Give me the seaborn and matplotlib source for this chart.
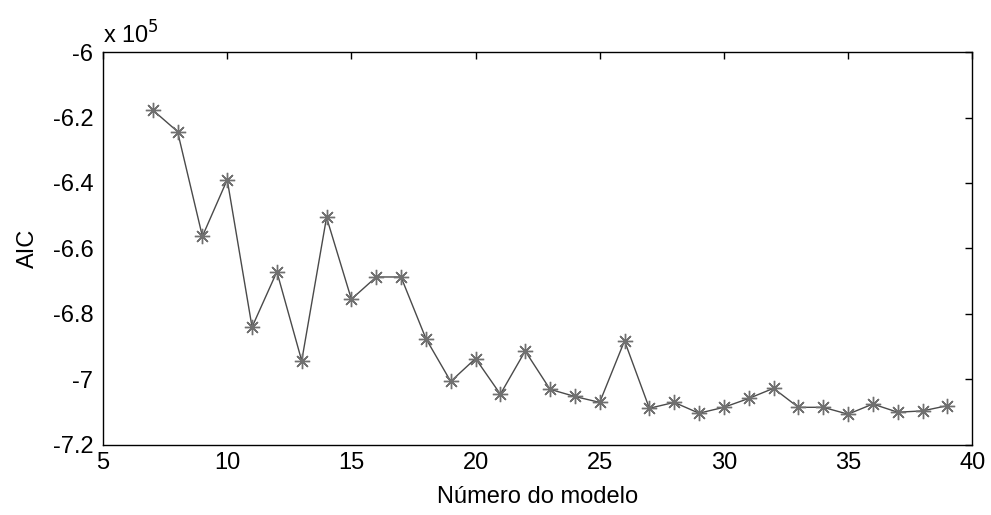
import numpy as np
import pandas as pd
import matplotlib
matplotlib.use("Agg")
import matplotlib.pyplot as plt
import matplotlib.ticker as mticker
import seaborn as sns

sns.set_style("white")
plt.rcParams['font.family'] = ['Liberation Sans', 'DejaVu Sans']

# model number vs AIC
modelo = [7, 8, 9, 10, 11, 12, 13, 14, 15, 16, 17, 18, 19, 20, 21, 22, 23,
          24, 25, 26, 27, 28, 29, 30, 31, 32, 33, 34, 35, 36, 37, 38, 39]
aic = [-6.177, -6.243, -6.563, -6.39, -6.840, -6.671, -6.943, -6.505, -6.755,
       -6.687, -6.687, -6.875, -7.006, -6.936, -7.045, -6.913, -7.030,
       -7.052, -7.070, -6.882, -7.088, -7.070, -7.103, -7.085, -7.058,
       -7.027, -7.085, -7.085, -7.106, -7.075, -7.100, -7.096, -7.080]
aic = [v * 1e5 for v in aic]

x_ticks = [5, 10, 15, 20, 25, 30, 35, 40]
y_ticks = [-7.2e5, -7.0e5, -6.8e5, -6.6e5, -6.4e5, -6.2e5, -6.0e5]

df = pd.DataFrame({"modelo": modelo, "AIC": aic})

fig = plt.figure(figsize=(9.91, 5.15), dpi=100)
ax = fig.add_axes([0.104, 0.136, 0.877, 0.763])

sns.lineplot(data=df, x="modelo", y="AIC", ax=ax, color="#4a4a4a",
             linewidth=1.0, marker=(8, 2, 0), markersize=11,
             markeredgecolor="#707070", markeredgewidth=1.0)

ax.set_xlim(5, 40)
ax.set_ylim(-7.2e5, -6.0e5)
ax.set_xticks(x_ticks)
ax.set_yticks(y_ticks)
ax.yaxis.set_major_formatter(mticker.FuncFormatter(lambda v, p: "%g" % round(v / 1e5, 2)))

ax.tick_params(direction="in", length=5, width=1, top=True, right=True,
               labelsize=17, colors="black")
ax.tick_params(axis="x", pad=5)
ax.tick_params(axis="y", pad=7)
for s in ax.spines.values():
    s.set_visible(True)
    s.set_color("black")
    s.set_linewidth(1.0)

ax.set_xlabel("Número do modelo", fontsize=17, labelpad=9, color="black")
ax.set_ylabel("AIC", fontsize=17, labelpad=10, color="black")
ax.text(0.0, 1.008, "x 10$^5$", transform=ax.transAxes, fontsize=17,
        ha="left", va="bottom", color="black")

fig.savefig("out.png", dpi=100)
